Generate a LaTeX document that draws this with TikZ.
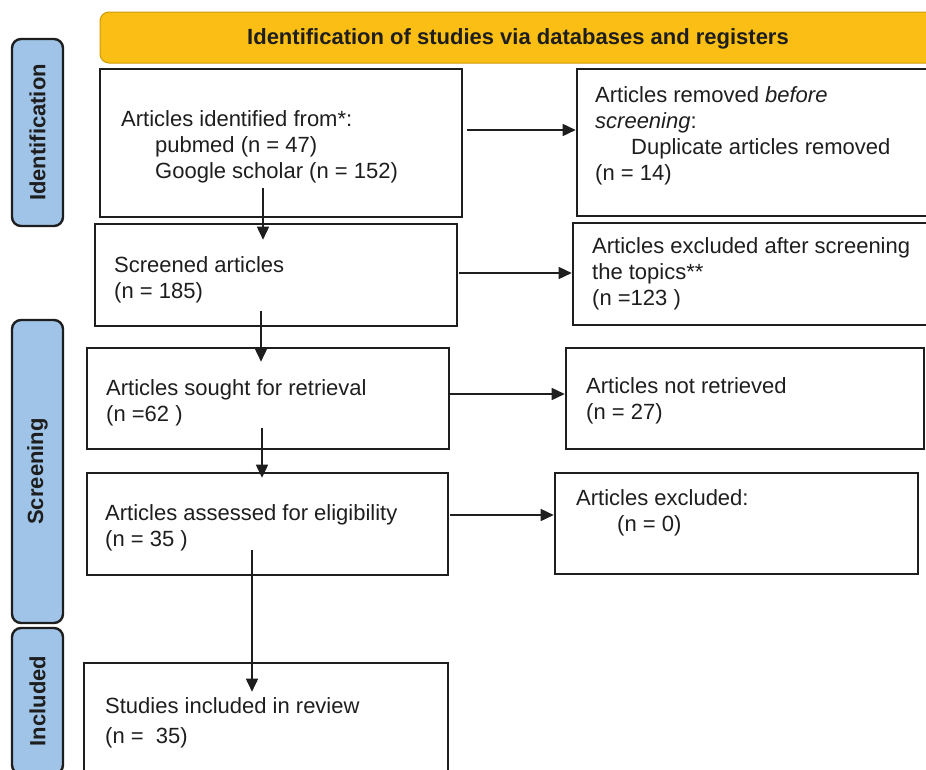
\documentclass[tikz,border=0pt]{standalone}
\usepackage{fontspec}
\setmainfont{Liberation Sans}
\usetikzlibrary{arrows.meta,fit}
\definecolor{gold}{RGB}{250,190,20}
\definecolor{goldedge}{RGB}{205,155,10}
\definecolor{lblue}{RGB}{160,196,232}
\definecolor{ink}{RGB}{30,30,30}
\begin{document}
\begin{tikzpicture}[x=1pt,y=-1pt,
 box/.style={draw=ink, line width=2.6pt, inner sep=0pt, fill=white},
 lbl/.style={draw=ink, line width=2.4pt, fill=lblue, rounded corners=9pt, inner sep=0pt},
 txt/.style={anchor=north west, inner sep=0pt, align=left, text=ink, font=\fontsize{22}{26}\selectfont},
 lbltxt/.style={rotate=90, inner sep=0pt, text=ink, font=\fontsize{22}{26}\selectfont\bfseries},
 arr/.style={draw=ink, line width=1.6pt, -{Triangle[length=13pt,width=12pt]}}
]
\useasboundingbox (0,0) rectangle (926,769);
\clip (0,0) rectangle (926,769);
\fill[white] (0,0) rectangle (926,769);

% banner
\node[fill=gold, draw=goldedge, line width=1pt, rounded corners=9pt, inner sep=0pt, fit={(100,12)(960,63)}] (ban) {};
\node[anchor=base, inner sep=0pt, text=ink, font=\fontsize{22}{26}\selectfont\bfseries] (bant) at (518,44) {Identification of studies via databases and registers};

% side labels
\node[lbl, fit={(12,39)(63,226)}] (L1) {};
\node[lbltxt] (L1t) at (L1.center) {Identification};
\node[lbl, fit={(12,320)(63,623)}] (L2) {};
\node[lbltxt] (L2t) at (L2.center) {Screening};
\node[lbl, fit={(12,628)(63,774)}] (L3) {};
\node[lbltxt] (L3t) at (L3.center) {Included};

% boxes
\node[box, fit={(100,69)(462,217)}] (b1) {};
\node[box, fit={(577,69)(960,216)}] (b2) {};
\node[box, fit={(95,224)(457,326)}] (b3) {};
\node[box, fit={(573,223)(960,325)}] (b4) {};
\node[box, fit={(87,348)(449,449)}] (b5) {};
\node[box, fit={(566,348)(924,449)}] (b6) {};
\node[box, fit={(87,473)(448,575)}] (b7) {};
\node[box, fit={(555,473)(918,574)}] (b8) {};
\node[box, fit={(84,663)(448,800)}] (b9) {};

% texts
\node[txt] (t1) at (121,107.8) {\strut Articles identified from*:\\\hspace*{34pt}pubmed (n = 47)\\\hspace*{34pt}Google scholar (n = 152)};
\node[txt] (t2) at (595,83.8) {\strut Articles removed \textit{before}\\\textit{screening}:\\\hspace*{36pt}Duplicate articles removed\\(n = 14)};
\node[txt] (t3) at (114,253.8) {\strut Screened articles\\(n = 185)};
\node[txt] (t4) at (592,234.8) {\strut Articles excluded after screening\\the topics**\\(n =123 )};
\node[txt] (t5) at (106,376.8) {\strut Articles sought for retrieval\\(n =62 )};
\node[txt] (t6) at (586,374.8) {\strut Articles not retrieved\\(n = 27)};
\node[txt] (t7) at (105,501.8) {\strut Articles assessed for eligibility\\(n = 35 )};
\node[txt] (t8) at (576,486.8) {\strut Articles excluded:\\\hspace*{41pt}(n = 0)};
\node[txt] (t9) at (105,694.8) {\strut Studies included in review\\[4pt](n =\ \ 35)};

% connectors
\coordinate (v1s) at (263,188);
\coordinate (v2s) at (261,311);
\coordinate (v3s) at (262,428);
\coordinate (v4s) at (252,550);
\coordinate (h1s) at (467,130);
\coordinate (h2s) at (459,273);
\coordinate (h3s) at (450,394);
\coordinate (h4s) at (450,515);
\draw[arr] (v1s) -- ([yshift=-17pt]v1s |- b3.north);
\draw[arr] (v2s) -- ([yshift=-15pt]v2s |- b5.north);
\draw[arr] (v3s) -- ([yshift=-6pt]v3s |- b7.north);
\draw[arr] (v4s) -- ([yshift=-30pt]v4s |- b9.north);
\draw[arr] (h1s) -- (h1s -| b2.west);
\draw[arr] (h2s) -- (h2s -| b4.west);
\draw[arr] (h3s) -- (h3s -| b6.west);
\draw[arr] (h4s) -- (h4s -| b8.west);
\end{tikzpicture}
\end{document}
